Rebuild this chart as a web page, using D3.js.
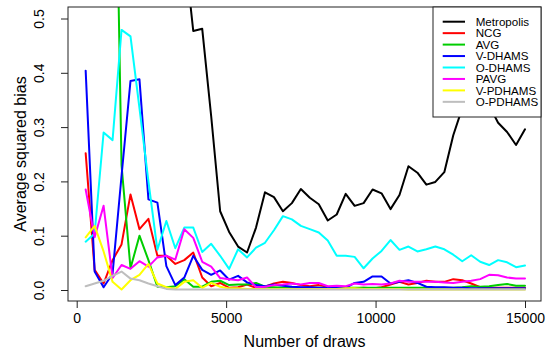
<!DOCTYPE html>
<html>
<head>
<meta charset="utf-8">
<script src="https://cdn.jsdelivr.net/npm/d3@7/dist/d3.min.js"></script>
<style>
  html, body { margin: 0; padding: 0; background: #fff; }
  svg { display: block; }
  text { font-family: "Liberation Sans", Arial, Helvetica, sans-serif; fill: #000; }
</style>
</head>
<body>
<script>
// Number of draws at which each estimator was evaluated
const draws = [300, 600, 900, 1200, 1500, 1800, 2100, 2400, 2700, 3000,
  3300, 3600, 3900, 4200, 4500, 4800, 5100, 5400, 5700, 6000,
  6300, 6600, 6900, 7200, 7500, 7800, 8100, 8400, 8700, 9000,
  9300, 9600, 9900, 10200, 10500, 10800, 11100, 11400, 11700, 12000,
  12300, 12600, 12900, 13200, 13500, 13800, 14100, 14400, 14700, 15000];

// Average squared bias for each method
const metropolis = [3.1, 2.5, 2.05, 1.8, 1.55, 1.35, 1.18, 1.02, 0.9, 0.8,
  0.71, 0.63, 0.477, 0.481, 0.32, 0.145, 0.107, 0.080, 0.069, 0.115,
  0.180, 0.171, 0.145, 0.160, 0.186, 0.170, 0.158, 0.128, 0.139, 0.177,
  0.155, 0.160, 0.185, 0.178, 0.149, 0.175, 0.228, 0.216, 0.194, 0.199,
  0.217, 0.285, 0.335, 0.360, 0.375, 0.340, 0.308, 0.291, 0.267, 0.296];
const ncg = [0.252, 0.037, 0.012, 0.055, 0.084, 0.176, 0.112, 0.131, 0.063, 0.063,
  0.048, 0.055, 0.069, 0.023, 0.007, 0.013, 0.004, 0.005, 0.010, 0.004,
  0.006, 0.012, 0.015, 0.013, 0.009, 0.007, 0.009, 0.006, 0.004, 0.004,
  0.003, 0.004, 0.003, 0.005, 0.010, 0.015, 0.010, 0.013, 0.017, 0.015,
  0.015, 0.020, 0.018, 0.012, 0.005, 0.004, 0.004, 0.004, 0.004, 0.004];
const avg = [2.7, 2.0, 1.55, 1.15, 0.23, 0.040, 0.100, 0.055, 0.006, 0.005,
  0.007, 0.020, 0.006, 0.006, 0.015, 0.017, 0.009, 0.010, 0.010, 0.013,
  0.006, 0.005, 0.004, 0.004, 0.004, 0.004, 0.004, 0.004, 0.004, 0.004,
  0.004, 0.004, 0.004, 0.004, 0.004, 0.004, 0.004, 0.004, 0.004, 0.004,
  0.004, 0.004, 0.005, 0.007, 0.006, 0.007, 0.009, 0.011, 0.008, 0.008];
const vDhams = [0.404, 0.034, 0.005, 0.030, 0.21, 0.385, 0.388, 0.167, 0.161, 0.044,
  0.009, 0.023, 0.063, 0.037, 0.028, 0.036, 0.019, 0.026, 0.014, 0.009,
  0.007, 0.010, 0.008, 0.006, 0.005, 0.005, 0.004, 0.004, 0.004, 0.004,
  0.013, 0.015, 0.025, 0.025, 0.012, 0.015, 0.018, 0.013, 0.006, 0.005,
  0.005, 0.004, 0.004, 0.003, 0.003, 0.003, 0.003, 0.003, 0.003, 0.003];
const oDhams = [0.089, 0.104, 0.290, 0.276, 0.479, 0.467, 0.335, 0.200, 0.074, 0.127,
  0.077, 0.115, 0.115, 0.070, 0.085, 0.063, 0.039, 0.075, 0.060, 0.078,
  0.087, 0.110, 0.136, 0.130, 0.118, 0.112, 0.106, 0.091, 0.063, 0.063,
  0.061, 0.040, 0.058, 0.072, 0.092, 0.074, 0.080, 0.071, 0.075, 0.080,
  0.075, 0.065, 0.053, 0.064, 0.052, 0.046, 0.055, 0.051, 0.042, 0.045];
const pavg = [0.185, 0.097, 0.155, 0.022, 0.046, 0.039, 0.053, 0.043, 0.060, 0.063,
  0.056, 0.112, 0.096, 0.052, 0.043, 0.022, 0.020, 0.018, 0.023, 0.005,
  0.006, 0.009, 0.010, 0.012, 0.010, 0.013, 0.013, 0.007, 0.008, 0.007,
  0.012, 0.010, 0.011, 0.010, 0.012, 0.017, 0.015, 0.015, 0.015, 0.015,
  0.014, 0.013, 0.015, 0.017, 0.020, 0.028, 0.027, 0.023, 0.021, 0.021];
const vPdhams = [0.097, 0.118, 0.071, 0.015, 0.001, 0.018, 0.028, 0.048, 0.012, 0.005,
  0.002, 0.015, 0.018, 0.004, 0.013, 0.006, 0.003, 0.003, 0.002, 0.002,
  0.002, 0.002, 0.002, 0.002, 0.002, 0.002, 0.002, 0.002, 0.002, 0.003,
  0.003, 0.002, 0.002, 0.002, 0.002, 0.002, 0.001, 0.001, 0.001, 0.001,
  0.001, 0.001, 0.001, 0.001, 0.001, 0.001, 0.001, 0.001, 0.001, 0.001];
const oPdhams = [0.007, 0.012, 0.017, 0.026, 0.034, 0.021, 0.018, 0.012, 0.007, 0.002,
  0.001, 0.001, 0.001, 0.001, 0.001, 0.001, 0.001, 0.001, 0.001, 0.001,
  0.001, 0.001, 0.001, 0.001, 0.001, 0.001, 0.001, 0.001, 0.001, 0.001,
  0.001, 0.001, 0.001, 0.001, 0.001, 0.001, 0.001, 0.001, 0.001, 0.001,
  0.001, 0.001, 0.001, 0.001, 0.001, 0.001, 0.001, 0.001, 0.001, 0.001];

const seriesNames = ["Metropolis", "NCG", "AVG", "V-DHAMS", "O-DHAMS", "PAVG", "V-PDHAMS", "O-PDHAMS"];
const seriesValues = [metropolis, ncg, avg, vDhams, oDhams, pavg, vPdhams, oPdhams];
const seriesColors = ["#000000", "#ff0000", "#00cd00", "#0000ff", "#00ffff", "#ff00ff", "#ffff00", "#bebebe"];

const xTicks = [0, 5000, 10000, 15000];
const yTicks = [0.0, 0.1, 0.2, 0.3, 0.4, 0.5];

const W = 547, H = 364;
const box = { left: 68, right: 541, top: 7, bottom: 301 };

const svg = d3.select("body").append("svg")
  .attr("width", W).attr("height", H);

const x = d3.scaleLinear().domain([0, 15000]).range([76.7, 525.0]);
const y = d3.scaleLinear().domain([0, 0.5]).range([290, 18.5]);

svg.append("defs").append("clipPath").attr("id", "plotClip")
  .append("rect")
  .attr("x", box.left).attr("y", box.top)
  .attr("width", box.right - box.left).attr("height", box.bottom - box.top);

// Series lines
const line = d3.line()
  .x((d, i) => x(draws[i]))
  .y(d => y(d));

const linesG = svg.append("g").attr("clip-path", "url(#plotClip)");
seriesValues.forEach((vals, k) => {
  linesG.append("path")
    .datum(vals)
    .attr("d", line)
    .attr("fill", "none")
    .attr("stroke", seriesColors[k])
    .attr("stroke-width", 2)
    .attr("stroke-linejoin", "round")
    .attr("stroke-linecap", "round");
});

// Plot frame
svg.append("rect")
  .attr("x", box.left).attr("y", box.top)
  .attr("width", box.right - box.left).attr("height", box.bottom - box.top)
  .attr("fill", "none").attr("stroke", "#222").attr("stroke-width", 1);

// X axis
const xAxis = d3.axisBottom(x).tickValues(xTicks).tickSize(7).tickPadding(5)
  .tickFormat(d3.format("d"));
const xg = svg.append("g").attr("transform", `translate(0,${box.bottom})`).call(xAxis);
xg.select(".domain").remove();
xg.selectAll(".tick line").attr("stroke", "#222");
xg.selectAll(".tick text").attr("font-size", 14)
  .attr("font-family", "'Liberation Sans', Arial, Helvetica, sans-serif")
  .attr("fill", "#000");

// Y axis (labels parallel to the axis)
const yAxis = d3.axisLeft(y).tickValues(yTicks).tickSize(7).tickFormat(d3.format(".1f"));
const yg = svg.append("g").attr("transform", `translate(${box.left},0)`).call(yAxis);
yg.select(".domain").remove();
yg.selectAll(".tick line").attr("stroke", "#222");
yg.selectAll(".tick text")
  .attr("font-size", 14)
  .attr("font-family", "'Liberation Sans', Arial, Helvetica, sans-serif")
  .attr("fill", "#000")
  .attr("x", null).attr("dy", null)
  .attr("text-anchor", "middle")
  .attr("transform", `translate(${43.5 - box.left},0) rotate(-90)`);

// Axis titles
svg.append("text")
  .attr("x", (box.left + box.right) / 2).attr("y", 347)
  .attr("text-anchor", "middle").attr("font-size", 16)
  .text("Number of draws");
svg.append("text")
  .attr("transform", `translate(25.5,${(box.top + box.bottom) / 2}) rotate(-90)`)
  .attr("text-anchor", "middle").attr("font-size", 16)
  .text("Average squared bias");

// Legend
const leg = { left: 433, top: 7, right: 541, bottom: 117, row0: 21.7, rowH: 11.45 };
const legG = svg.append("g");
legG.append("rect")
  .attr("x", leg.left).attr("y", leg.top)
  .attr("width", leg.right - leg.left).attr("height", leg.bottom - leg.top)
  .attr("fill", "#fff").attr("stroke", "#222").attr("stroke-width", 1);
seriesNames.forEach((name, k) => {
  const cy = leg.row0 + k * leg.rowH;
  legG.append("line")
    .attr("x1", 442.7).attr("x2", 465).attr("y1", cy).attr("y2", cy)
    .attr("stroke", seriesColors[k]).attr("stroke-width", 2);
  legG.append("text")
    .attr("x", 475.7).attr("y", cy + 4.1)
    .attr("font-size", 11.6)
    .text(name);
});
</script>
</body>
</html>
